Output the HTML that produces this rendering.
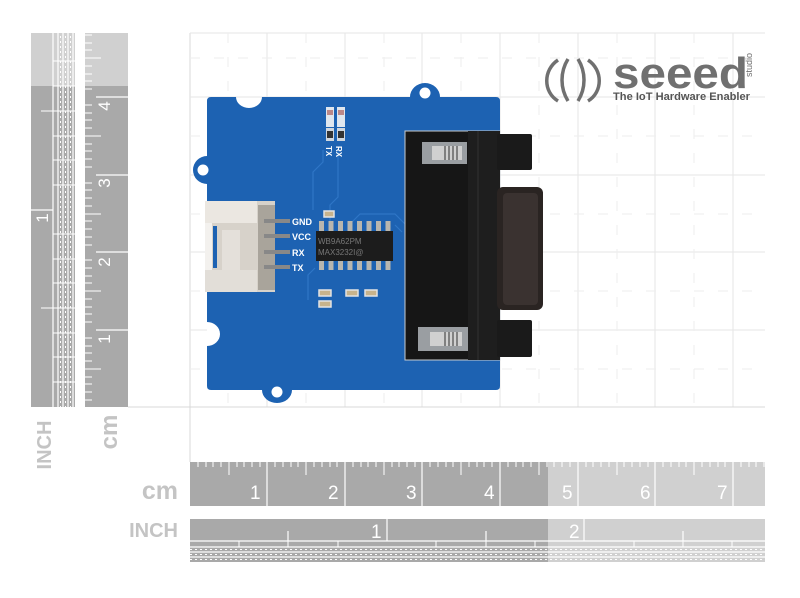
<!DOCTYPE html>
<html><head><meta charset="utf-8"><style>
html,body{margin:0;padding:0;background:#fff}
svg{display:block}
text{font-family:"Liberation Sans",sans-serif}
</style></head><body>
<svg width="800" height="598" viewBox="0 0 800 598" xmlns="http://www.w3.org/2000/svg">
<!-- grid -->
<g stroke="#e6e6e6" stroke-width="1">
<line x1="190" y1="33" x2="190" y2="462" stroke="#d8d8d8"/>
<line x1="267" y1="33" x2="267" y2="407"/><line x1="345" y1="33" x2="345" y2="407"/>
<line x1="422" y1="33" x2="422" y2="407"/><line x1="500" y1="33" x2="500" y2="407"/>
<line x1="578" y1="33" x2="578" y2="407"/><line x1="655" y1="33" x2="655" y2="407"/>
<line x1="733" y1="33" x2="733" y2="407"/>
<line x1="190" y1="33" x2="765" y2="33"/><line x1="190" y1="97" x2="765" y2="97"/>
<line x1="190" y1="175" x2="765" y2="175"/><line x1="190" y1="252" x2="765" y2="252"/>
<line x1="190" y1="330" x2="765" y2="330"/><line x1="128" y1="407" x2="765" y2="407" stroke="#d8d8d8"/>
</g>
<g stroke="#eeeeee" stroke-width="1" stroke-dasharray="10 14">
<line x1="228" y1="33" x2="228" y2="407"/><line x1="306" y1="33" x2="306" y2="407"/>
<line x1="384" y1="33" x2="384" y2="407"/><line x1="461" y1="33" x2="461" y2="407"/>
<line x1="539" y1="33" x2="539" y2="407"/><line x1="617" y1="33" x2="617" y2="407"/>
<line x1="694" y1="33" x2="694" y2="407"/>
<line x1="190" y1="58" x2="765" y2="58"/><line x1="190" y1="136" x2="765" y2="136"/>
<line x1="190" y1="214" x2="765" y2="214"/><line x1="190" y1="291" x2="765" y2="291"/>
<line x1="190" y1="369" x2="765" y2="369"/>
</g>

<!-- vertical rulers -->
<rect x="31" y="33" width="44" height="374" fill="#a9a9a9"/>
<rect x="31" y="33" width="44" height="53" fill="#d0d0d0"/>
<rect x="85" y="33" width="43" height="374" fill="#a9a9a9"/>
<rect x="85" y="33" width="43" height="53" fill="#d0d0d0"/>
<g stroke="#fff" stroke-width="1.2">
<line x1="53" y1="33" x2="53" y2="407"/><line x1="58" y1="33" x2="58" y2="407"/>
<line x1="63" y1="33" x2="63" y2="407"/><line x1="68" y1="33" x2="68" y2="407"/>
<line x1="73" y1="33" x2="73" y2="407"/>
<line x1="31" y1="210" x2="53" y2="210"/>
<line x1="128" y1="97" x2="96" y2="97"/><line x1="128" y1="175" x2="96" y2="175"/>
<line x1="128" y1="252" x2="96" y2="252"/><line x1="128" y1="330" x2="96" y2="330"/>
</g>
<g stroke="#fff" stroke-width="1">
<path d="M53 61H75M53 86H75M53 111H75M53 136H75M53 160H75M53 185H75M53 234H75M53 259H75M53 283H75M53 308H75M53 333H75M53 357H75M53 382H75M41 111H53M41 308H53"/>
</g>
<g stroke="#fff" stroke-width="1" stroke-dasharray="2 3">
<path d="M60.5 36V407M65.5 36V407M70.5 36V407"/>
</g>
<g stroke="#fff" stroke-width="1">
<path d="M85 105H92M85 113H92M85 120H92M85 128H92M85 136H101M85 144H92M85 151H92M85 159H92M85 167H92
M85 183H92M85 190H92M85 198H92M85 206H92M85 214H101M85 221H92M85 229H92M85 237H92M85 245H92
M85 260H92M85 268H92M85 276H92M85 283H92M85 291H101M85 299H92M85 307H92M85 314H92M85 322H92
M85 338H92M85 346H92M85 353H92M85 361H92M85 369H101M85 377H92M85 384H92M85 392H92M85 400H92
M85 89H92M85 81H92M85 74H92M85 66H92M85 58H101M85 50H92M85 43H92M85 35H92"/>
</g>
<g fill="#fff" font-size="17">
<text transform="translate(110,106) rotate(-90)" text-anchor="middle">4</text>
<text transform="translate(110,183) rotate(-90)" text-anchor="middle">3</text>
<text transform="translate(110,262) rotate(-90)" text-anchor="middle">2</text>
<text transform="translate(110,339) rotate(-90)" text-anchor="middle">1</text>
<text transform="translate(48,218) rotate(-90)" text-anchor="middle">1</text>
</g>
<text transform="translate(51,445) rotate(-90)" text-anchor="middle" font-size="20" font-weight="bold" fill="#c4c4c4">INCH</text>
<text transform="translate(117,432) rotate(-90)" text-anchor="middle" font-size="24" font-weight="bold" fill="#c4c4c4">cm</text>

<!-- horizontal cm ruler -->
<rect x="190" y="462" width="358" height="44" fill="#a9a9a9"/>
<rect x="548" y="462" width="217" height="44" fill="#d0d0d0"/>
<g stroke="#fff" stroke-width="1.2">
<path d="M267 462V506M345 462V506M422 462V506M500 462V506M578 462V506M655 462V506M733 462V506"/>
</g>
<g stroke="#fff" stroke-width="1">
<path d="M198 462V467M206 462V467M213 462V467M221 462V467M229 462V475M237 462V467M244 462V467M252 462V467M260 462V467
M275 462V467M283 462V467M291 462V467M298 462V467M306 462V475M314 462V467M322 462V467M330 462V467M337 462V467
M353 462V467M361 462V467M368 462V467M376 462V467M384 462V475M392 462V467M399 462V467M407 462V467M415 462V467
M430 462V467M438 462V467M446 462V467M453 462V467M461 462V475M469 462V467M477 462V467M484 462V467M492 462V467
M508 462V467M516 462V467M523 462V467M531 462V467M539 462V475M547 462V467M554 462V467M562 462V467M570 462V467
M586 462V467M593 462V467M601 462V467M609 462V467M617 462V475M624 462V467M632 462V467M640 462V467M648 462V467
M663 462V467M671 462V467M679 462V467M686 462V467M694 462V475M702 462V467M710 462V467M718 462V467M725 462V467
M741 462V467M749 462V467M756 462V467M764 462V467"/>
</g>
<g fill="#fff" font-size="19">
<text x="250" y="499">1</text><text x="328" y="499">2</text><text x="406" y="499">3</text>
<text x="484" y="499">4</text><text x="562" y="499">5</text><text x="640" y="499">6</text><text x="717" y="499">7</text>
</g>
<text x="178" y="499" text-anchor="end" font-size="25" font-weight="bold" fill="#c4c4c4">cm</text>

<!-- horizontal inch ruler -->
<rect x="190" y="519" width="358" height="43" fill="#a9a9a9"/>
<rect x="548" y="519" width="217" height="43" fill="#d0d0d0"/>
<g stroke="#fff" stroke-width="1.2">
<path d="M190 541H765M190 547H765M190 552H765M190 557H765M387 519V541M584 519V541M288 531V541M486 531V541M683 531V541"/>
</g>
<g stroke="#fff" stroke-width="1">
<path d="M239 541V547M288 541V547M338 541V547M436 541V547M486 541V547M535 541V547M634 541V547M683 541V547M732 541V547"/>
</g>
<g stroke="#fff" stroke-width="1" stroke-dasharray="2 3">
<path d="M190 549.5H765M190 554.5H765M190 559.5H765"/>
</g>
<g fill="#fff" font-size="19"><text x="371" y="538">1</text><text x="569" y="538">2</text></g>
<text x="178" y="537" text-anchor="end" font-size="20" font-weight="bold" fill="#c4c4c4">INCH</text>

<!-- logo -->
<g fill="none" stroke="#707070" stroke-width="3.5">
<path d="M558 60 C543 70 543 92 558 101"/>
<path d="M588 60 C603 70 603 92 588 101"/>
<path d="M568 59 C560 72 560 88 568 101"/>
<path d="M578 59 C586 72 586 88 578 101"/>
</g>
<text x="613" y="88" font-size="44" font-weight="bold" fill="#707070" textLength="135" lengthAdjust="spacingAndGlyphs">seeed</text>
<text transform="translate(752,77) rotate(-90)" font-size="9" fill="#707070">studio</text>
<text x="613" y="100" font-size="11" font-weight="bold" fill="#555" textLength="137" lengthAdjust="spacingAndGlyphs">The IoT Hardware Enabler</text>

<!-- PCB -->
<path d="M207 101 Q207 97 211 97 H236 A13 11 0 0 0 262 97 H410 A15 14 0 0 1 440 97 H496 Q500 97 500 101 V386 Q500 390 496 390 H292 A15 13 0 0 1 262 390 H211 Q207 390 207 386 V184 A14 14 0 0 1 207 156 Z" fill="#1d62b2"/>
<circle cx="425" cy="93" r="9" fill="#1d62b2"/><circle cx="425" cy="93" r="5.5" fill="#fff"/>
<circle cx="203" cy="170" r="9" fill="#1d62b2"/><circle cx="203" cy="170" r="5.5" fill="#fff"/>
<circle cx="277" cy="392" r="9" fill="#1d62b2"/><circle cx="277" cy="392" r="5.5" fill="#fff"/>
<path d="M207 322 A13 12 0 0 1 207 346" fill="#fff"/>
<g stroke="#2f76c6" fill="none" stroke-width="1.2">
<path d="M313 210 V172 L323 162 V150M330 238 V205 L338 197 V150M352 222 L360 214 H395 L405 224M395 225 L402 232 M308 300 V275 L315 268"/>
</g>
<rect x="326" y="107" width="8" height="20" fill="#dfe6ee"/><rect x="337" y="107" width="8" height="20" fill="#dfe6ee"/>
<rect x="327" y="110" width="6" height="5" fill="#b88"/><rect x="338" y="110" width="6" height="5" fill="#b88"/>
<rect x="326" y="128" width="8" height="13" fill="#cfd6de"/><rect x="337" y="128" width="8" height="13" fill="#cfd6de"/>
<rect x="327" y="131" width="6" height="7" fill="#333"/><rect x="338" y="131" width="6" height="7" fill="#333"/>
<text transform="translate(336,146) rotate(90)" font-size="8" font-weight="bold" fill="#fff">RX</text>
<text transform="translate(326,146) rotate(90)" font-size="8" font-weight="bold" fill="#fff">TX</text>
<!-- grove connector -->
<rect x="205" y="201" width="70" height="91" fill="#d7d2ca"/>
<rect x="205" y="201" width="52" height="22" fill="#ebe7e1"/>
<rect x="205" y="270" width="52" height="22" fill="#e2ded8"/>
<rect x="205" y="223" width="7" height="47" fill="#f3f1ee"/>
<rect x="213" y="226" width="4" height="42" fill="#1d62b2"/>
<rect x="222" y="230" width="18" height="40" fill="#e4e0da"/>
<rect x="258" y="205" width="17" height="85" fill="#a9a49b"/>
<g fill="#888"><rect x="264" y="219" width="26" height="4"/><rect x="264" y="234" width="26" height="4"/><rect x="264" y="250" width="26" height="4"/><rect x="264" y="265" width="26" height="4"/></g>
<g font-size="9" font-weight="bold" fill="#fff"><text x="292" y="225">GND</text><text x="292" y="240">VCC</text><text x="292" y="256">RX</text><text x="292" y="271">TX</text></g>
<!-- IC -->
<g fill="#b9b6ae">
<rect x="319" y="221" width="5" height="10"/><rect x="328.5" y="221" width="5" height="10"/><rect x="338" y="221" width="5" height="10"/><rect x="347.5" y="221" width="5" height="10"/><rect x="357" y="221" width="5" height="10"/><rect x="366.5" y="221" width="5" height="10"/><rect x="376" y="221" width="5" height="10"/><rect x="385.5" y="221" width="5" height="10"/>
<rect x="319" y="260" width="5" height="10"/><rect x="328.5" y="260" width="5" height="10"/><rect x="338" y="260" width="5" height="10"/><rect x="347.5" y="260" width="5" height="10"/><rect x="357" y="260" width="5" height="10"/><rect x="366.5" y="260" width="5" height="10"/><rect x="376" y="260" width="5" height="10"/><rect x="385.5" y="260" width="5" height="10"/>
</g>
<rect x="316" y="231" width="77" height="30" fill="#1c1c1c"/>
<text x="318" y="244" font-size="8" fill="#777" font-family="Liberation Mono,monospace">WB9A62PM</text>
<text x="318" y="255" font-size="8" fill="#777" font-family="Liberation Mono,monospace">MAX3232I@</text>
<g fill="#c7b38c" stroke="#e3e3e3" stroke-width="1.5">
<rect x="324" y="211" width="10" height="6"/>
<rect x="319" y="290" width="12" height="6"/><rect x="346" y="290" width="12" height="6"/><rect x="365" y="290" width="12" height="6"/><rect x="319" y="301" width="12" height="6"/>
</g>
<!-- DB9 -->
<rect x="405" y="131" width="95" height="229" fill="#161616"/>
<rect x="405" y="131" width="95" height="229" fill="none" stroke="#c8ccd0" stroke-width="1"/>
<rect x="468" y="131" width="32" height="229" fill="#1e1e1e"/>
<line x1="478" y1="131" x2="478" y2="360" stroke="#333"/>
<rect x="497" y="134" width="35" height="36" rx="2" fill="#1a1a1a"/>
<rect x="497" y="320" width="35" height="37" rx="2" fill="#1a1a1a"/>
<rect x="497" y="187" width="46" height="123" rx="6" fill="#2a2422"/>
<rect x="503" y="193" width="35" height="112" rx="4" fill="#3a3230"/>
<rect x="422" y="142" width="45" height="22" fill="#9a9ea2"/>
<rect x="432" y="146" width="30" height="14" fill="#d0d0d0"/>
<g stroke="#666" stroke-width="1.5"><path d="M445 146V160M449 146V160M453 146V160M457 146V160"/></g>
<rect x="418" y="327" width="50" height="24" fill="#9a9ea2"/>
<rect x="430" y="332" width="32" height="14" fill="#d0d0d0"/>
<g stroke="#666" stroke-width="1.5"><path d="M445 332V346M449 332V346M453 332V346M457 332V346"/></g>
</svg>
</body></html>
